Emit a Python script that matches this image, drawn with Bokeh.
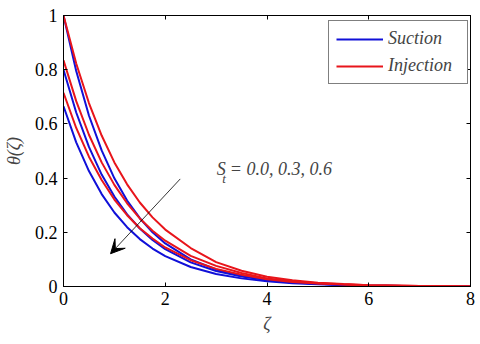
from bokeh.plotting import figure
from bokeh.models import (Range1d, LinearAxis, FixedTicker, Legend, LegendItem,
                          Label, Arrow, VeeHead)
from bokeh.embed import file_html
from bokeh.resources import INLINE

# ---- data ----
zeta = [0, 0.25, 0.5, 0.75, 1, 1.25, 1.5, 1.75, 2, 2.5, 3, 3.5, 4, 4.5, 5, 5.5, 6, 7, 8]

suction_st00 = [1.000, 0.795, 0.631, 0.502, 0.399, 0.317, 0.252, 0.200, 0.159, 0.100,
                0.063, 0.040, 0.025, 0.016, 0.010, 0.006, 0.004, 0.001, 0.000]
suction_st03 = [0.800, 0.642, 0.515, 0.413, 0.332, 0.266, 0.214, 0.172, 0.138, 0.089,
                0.057, 0.037, 0.024, 0.015, 0.010, 0.006, 0.004, 0.001, 0.000]
suction_st06 = [0.665, 0.532, 0.426, 0.341, 0.273, 0.219, 0.175, 0.140, 0.112, 0.072,
                0.046, 0.030, 0.019, 0.012, 0.008, 0.005, 0.003, 0.001, 0.000]

injection_st00 = [1.000, 0.823, 0.677, 0.557, 0.458, 0.377, 0.310, 0.255, 0.210, 0.142,
                  0.090, 0.058, 0.036, 0.023, 0.014, 0.009, 0.005, 0.002, 0.000]
injection_st03 = [0.835, 0.684, 0.560, 0.458, 0.375, 0.307, 0.251, 0.206, 0.169, 0.113,
                  0.076, 0.050, 0.030, 0.019, 0.012, 0.008, 0.005, 0.002, 0.000]
injection_st06 = [0.715, 0.585, 0.479, 0.393, 0.321, 0.263, 0.215, 0.177, 0.144, 0.097,
                  0.065, 0.043, 0.027, 0.017, 0.011, 0.007, 0.004, 0.002, 0.000]

x_ticks = [0, 2, 4, 6, 8]
y_ticks = [0, 0.2, 0.4, 0.6, 0.8, 1]
y_tick_labels = {0: "0", 0.2: "0.2", 0.4: "0.4", 0.6: "0.6", 0.8: "0.8", 1: "1"}

BLUE = "#1010d8"
RED = "#e8151b"
FONT = "Liberation Serif"

p = figure(width=478, height=342, output_backend="svg", toolbar_location=None,
           x_range=Range1d(0, 8), y_range=Range1d(0, 1),
           min_border_left=61, min_border_right=8, min_border_top=15, min_border_bottom=56)
p.background_fill_color = "white"
p.border_fill_color = "white"
p.outline_line_color = "black"
p.grid.visible = False

for ax in (p.xaxis[0], p.yaxis[0]):
    ax.major_tick_in = 4
    ax.major_tick_out = 0
    ax.minor_tick_in = 0
    ax.minor_tick_out = 0
    ax.major_label_text_font = FONT
    ax.major_label_text_font_size = "18px"
    ax.major_label_text_color = "black"
    ax.axis_line_color = "black"
    ax.major_tick_line_color = "black"

p.xaxis[0].ticker = FixedTicker(ticks=x_ticks)
p.yaxis[0].ticker = FixedTicker(ticks=y_ticks)
p.yaxis[0].major_label_overrides = y_tick_labels
p.xaxis[0].major_label_standoff = 5
p.yaxis[0].major_label_standoff = 6

p.xaxis[0].axis_label = "ζ"
p.xaxis[0].axis_label_text_font = FONT
p.xaxis[0].axis_label_text_font_style = "italic"
p.xaxis[0].axis_label_text_font_size = "18px"
p.xaxis[0].axis_label_standoff = 6

p.yaxis[0].axis_label = "θ(ζ)"
p.yaxis[0].axis_label_text_font = FONT
p.yaxis[0].axis_label_text_font_style = "italic"
p.yaxis[0].axis_label_text_font_size = "18px"
p.yaxis[0].axis_label_standoff = 8

# mirrored ticks on top and right
top_ax = LinearAxis(ticker=FixedTicker(ticks=x_ticks), major_tick_in=4, major_tick_out=0,
                    minor_tick_in=0, minor_tick_out=0, major_label_text_font_size="0px",
                    major_label_standoff=0)
right_ax = LinearAxis(ticker=FixedTicker(ticks=y_ticks), major_tick_in=4, major_tick_out=0,
                      minor_tick_in=0, minor_tick_out=0, major_label_text_font_size="0px",
                      major_label_standoff=0)
p.add_layout(top_ax, "above")
p.add_layout(right_ax, "right")

# curves: suction (blue) first, injection (red) on top
rb = []
for ys in (suction_st00, suction_st03, suction_st06):
    rb.append(p.line(zeta, ys, line_color=BLUE, line_width=2))
rr = []
for ys in (injection_st00, injection_st03, injection_st06):
    rr.append(p.line(zeta, ys, line_color=RED, line_width=2))

legend = Legend(items=[LegendItem(label="Suction", renderers=[rb[0]]),
                       LegendItem(label="Injection", renderers=[rr[0]])],
                location=(265, 202), orientation="vertical",
                label_text_font=FONT, label_text_font_style="italic",
                label_text_font_size="18px", glyph_width=47, glyph_height=20,
                label_height=20, label_width=72, label_standoff=5,
                padding=7, spacing=6, margin=0,
                border_line_color="black", border_line_width=1,
                background_fill_color="white", background_fill_alpha=1)
p.add_layout(legend, "center")

# annotation S_t = 0.0, 0.3, 0.6
s_lab = Label(x=3.01, y=0.435, text="S", text_font=FONT, text_font_style="italic",
              text_font_size="18px", text_baseline="alphabetic")
t_lab = Label(x=3.12, y=0.40, text="t", text_font=FONT, text_font_style="italic",
              text_font_size="13px", text_baseline="alphabetic")
eq_lab = Label(x=3.27, y=0.435, text="= 0.0,  0.3,  0.6", text_font=FONT,
               text_font_style="italic", text_font_size="18px", text_baseline="alphabetic")
for lab in (s_lab, t_lab, eq_lab):
    p.add_layout(lab)

arrow = Arrow(x_start=2.295, y_start=0.397, x_end=0.925, y_end=0.121,
              line_color="black", line_width=0.8,
              end=VeeHead(size=14, fill_color="black", line_color="black", line_width=1))
p.add_layout(arrow)

open("out.html", "w").write(file_html(p, INLINE))
